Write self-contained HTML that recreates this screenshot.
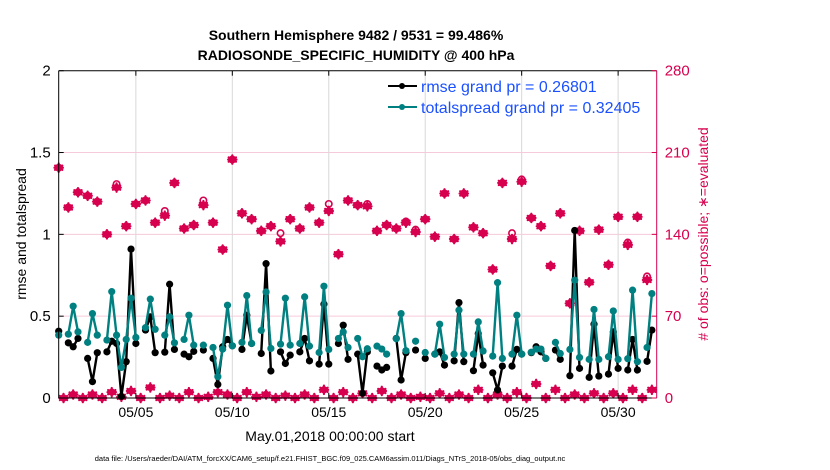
<!DOCTYPE html>
<html><head><meta charset="utf-8">
<style>
body{margin:0;background:#fff;}
svg{display:block;font-family:"Liberation Sans",Arial,sans-serif;}
</style></head>
<body>
<svg id="chart" width="830" height="470" viewBox="0 0 830 470" xmlns="http://www.w3.org/2000/svg">
<rect width="830" height="470" fill="#fff"/>
<text x="356" y="40" text-anchor="middle" font-size="14" font-weight="bold">Southern Hemisphere 9482 / 9531 = 99.486%</text>
<text x="356" y="60" text-anchor="middle" font-size="14" font-weight="bold">RADIOSONDE_SPECIFIC_HUMIDITY @ 400 hPa</text>
<g id="grid"></g>
<g id="counts"></g>
<g id="lines"></g>
<g id="axes"></g>
<g>
  <g>
    <line x1="388" y1="86" x2="417" y2="86" stroke="#000" stroke-width="2"/>
    <circle cx="402" cy="86" r="3" fill="#000"/>
    <text x="421" y="92" font-size="16" fill="#1a50ff">rmse grand pr = 0.26801</text>
  </g>
  <g>
    <line x1="388" y1="107" x2="417" y2="107" stroke="#008080" stroke-width="2"/>
    <circle cx="402" cy="107" r="3" fill="#008080"/>
    <text x="421" y="113" font-size="16" fill="#1a50ff">totalspread grand pr = 0.32405</text>
  </g>
</g>
<text transform="translate(26,234) rotate(-90)" text-anchor="middle" font-size="14">rmse and totalspread</text>
<text transform="translate(708,234) rotate(-90)" text-anchor="middle" font-size="14" fill="#d6004f"># of obs: o=possible; ∗=evaluated</text>
<text x="330" y="441" text-anchor="middle" font-size="14">May.01,2018 00:00:00 start</text>
<text x="330" y="461" text-anchor="middle" font-size="7.5">data file: /Users/raeder/DAI/ATM_forcXX/CAM6_setup/f.e21.FHIST_BGC.f09_025.CAM6assim.011/Diags_NTrS_2018-05/obs_diag_output.nc</text>
</svg>
<script>
// ---- data (hours since May 01 00:00) ----
const lineHours = [0,12,18,24,36,42,48,60,66,72,78,84,90,96,108,114,120,132,138,144,156,162,168,180,192,198,204,210,216,228,234,240,252,258,264,276,282,288,300,306,312,324,330,336,348,354,360,372,378,384,396,402,408,420,426,432,444,456,468,474,480,492,498,504,516,522,528,540,546,552,564,570,576,588,594,600,606,618,624,636,642,648,660,666,672,684,690,696,708,714,720,732,738];
const rmse = [0.408,0.337,0.313,0.364,0.242,0.10,0.277,0.282,0.347,0.333,0.01,0.222,0.91,0.333,0.415,0.496,0.277,0.28,0.695,0.297,0.268,0.252,0.285,0.293,0.242,0.083,0.313,0.358,0.319,0.297,0.506,0.333,0.272,0.821,0.165,0.282,0.211,0.262,0.282,0.364,0.227,0.207,0.573,0.207,0.333,0.445,0.236,0.268,0.029,0.282,0.195,0.171,0.187,0.364,0.11,0.277,0.293,0.242,0.268,0.282,0.201,0.227,0.583,0.222,0.167,0.394,0.201,0.154,0.049,0.195,0.195,0.297,0.268,0.277,0.313,0.282,0.242,0.293,0.236,0.136,1.024,0.181,0.126,0.451,0.134,0.146,0.404,0.181,0.171,0.358,0.171,0.224,0.415];
const totalspread = [0.384,0.39,0.561,0.404,0.34,0.516,0.384,0.354,0.65,0.384,0.187,0.358,0.61,0.37,0.43,0.604,0.42,0.384,0.496,0.337,0.358,0.506,0.323,0.323,0.309,0.13,0.299,0.567,0.319,0.34,0.626,0.333,0.413,0.648,0.303,0.329,0.61,0.323,0.333,0.618,0.317,0.278,0.683,0.297,0.364,0.404,0.309,0.364,0.252,0.301,0.317,0.299,0.268,0.362,0.516,0.289,0.347,0.278,0.268,0.451,0.248,0.268,0.537,0.268,0.268,0.465,0.287,0.256,0.705,0.242,0.268,0.506,0.268,0.28,0.299,0.299,0.242,0.34,0.272,0.297,0.72,0.248,0.236,0.541,0.236,0.252,0.532,0.236,0.24,0.659,0.222,0.309,0.638];
// counts at 00/12Z (even 6h index) and 06/18Z (odd index)
const evalBig = [197,163,176,173,168,140,180,147,166,169,150,156,184,145,148,165,150,127,204,158,153,143,147,134,153,145,163,150,160,123,169,165,164,143,148,145,150,142,153,138,175,136,175,146,141,110,184,136,185,154,147,113,158,81,143,99,144,114,155,131,155,101];
const possBig = [197,163,176,173,168,140,183,147,166,169,150,160,184,145,148,169,150,127,204,158,153,143,147,141,153,145,163,150,166,123,169,165,166,143,148,145,151,144,153,138,175,136,175,146,141,110,184,141,187,154,147,113,158,81,143,99,144,114,155,133,155,104];
const countSmall = [0,3,0,3,0,5,1,6,0,9,0,2,0,5,0,1,5,3,0,5,1,3,0,2,0,3,0,7,0,5,0,4,0,6,0,3,0,1,0,4,0,3,0,7,0,3,0,5,0,12,0,7,0,3,0,4,0,4,0,7,0,7];
const leftTicks = [0,0.5,1,1.5,2];
const leftTickLabels = ["0","0.5","1","1.5","2"];
const rightTicks = [0,70,140,210,280];
const dateTickHours = [96,216,336,456,576,696];
const dateTickLabels = ["05/05","05/10","05/15","05/20","05/25","05/30"];

const X0=58.7, X1=656.7, Y0=398, Y1=70.7, HMAX=744;
const NS='http://www.w3.org/2000/svg';
function xs(h){return X0+h/HMAX*(X1-X0);}
function yl(v){return Y0-v/2*(Y0-Y1);}
function yr(c){return Y0-c/280*(Y0-Y1);}
function mk(tag,attrs,parent){const e=document.createElementNS(NS,tag);for(const k in attrs)e.setAttribute(k,attrs[k]);parent.appendChild(e);return e;}
const grid=document.getElementById('grid'),axes=document.getElementById('axes'),cg=document.getElementById('counts'),lg=document.getElementById('lines');
const RED='#d6004f';

// grid
rightTicks.forEach((c,i)=>{ if(i>0&&i<rightTicks.length-1){const l=mk('line',{x1:X0,x2:X1,y1:yr(c),y2:yr(c),stroke:'#f6cadb','stroke-width':1},grid);

}});
dateTickHours.forEach(h=>{const l=mk('line',{x1:xs(h),x2:xs(h),y1:Y1,y2:Y0,stroke:'#d8d8d8','stroke-width':1},grid);

});

// counts
function star(x,y,parent){const g=mk('g',{stroke:RED,'stroke-width':2.2,'stroke-linecap':'round'},parent);
 const r=4.2;[[0,1],[0.866,0.5],[0.866,-0.5]].forEach(([a,b])=>mk('line',{x1:x-a*r,y1:y-b*r,x2:x+a*r,y2:y+b*r},g));
 mk('line',{x1:x-r,y1:y,x2:x+r,y2:y},g); return g;}
evalBig.forEach((c,k)=>{const h=k*12;
 const p=mk('circle',{cx:xs(h),cy:yr(possBig[k]),r:3.2,fill:'none',stroke:RED,'stroke-width':1.6},cg);
 
 
 const s=star(xs(h),yr(c),cg);
 
 
 mk('circle',{cx:xs(h),cy:yr(c),r:2.6,fill:RED},s);
});
countSmall.forEach((c,k)=>{const h=k*12+6;
 const s=star(xs(h),yr(c),cg);
 
 
 mk('circle',{cx:xs(h),cy:yr(c),r:2.6,fill:RED},s);
});

// lines
function drawSeries(vals,color,name){
 const g=mk('g',{},lg);
 
 
 let d='';
 vals.forEach((v,i)=>{const h=lineHours[i];const brk=i===0||h-lineHours[i-1]>6;d+=(brk?'M':'L')+xs(h).toFixed(1)+' '+yl(v).toFixed(1)+' ';});
 mk('path',{d:d,fill:'none',stroke:color,'stroke-width':2.4,'stroke-linejoin':'round'},g);
 vals.forEach((v,i)=>{const c=mk('circle',{cx:xs(lineHours[i]),cy:yl(v),r:3.6,fill:color},g);
 
 });
}
drawSeries(rmse,'#000','rmse-line');
drawSeries(totalspread,'#008080','totalspread-line');

// axes
mk('line',{x1:X0,x2:X1,y1:Y1,y2:Y1,stroke:'#000','stroke-width':1},axes);
mk('line',{x1:X0,x2:X1,y1:Y0,y2:Y0,stroke:'#000','stroke-width':1},axes);
mk('line',{x1:X0,x2:X0,y1:Y1,y2:Y0,stroke:'#000','stroke-width':1},axes);
mk('line',{x1:X1,x2:X1,y1:Y1,y2:Y0,stroke:RED,'stroke-width':1},axes);
leftTicks.forEach((v,i)=>{mk('line',{x1:X0,x2:X0+5,y1:yl(v),y2:yl(v),stroke:'#000'},axes);
 const t=mk('text',{x:X0-8,y:yl(v)+5,'text-anchor':'end','font-size':15},axes);t.textContent=leftTickLabels[i];
 
 });
rightTicks.forEach(c=>{mk('line',{x1:X1-5,x2:X1,y1:yr(c),y2:yr(c),stroke:RED},axes);
 const t=mk('text',{x:X1+8,y:yr(c)+5,'font-size':15,fill:RED},axes);t.textContent=String(c);
 
 });
dateTickHours.forEach((h,i)=>{mk('line',{x1:xs(h),x2:xs(h),y1:Y0,y2:Y0-5,stroke:'#000'},axes);
 mk('line',{x1:xs(h),x2:xs(h),y1:Y1,y2:Y1+5,stroke:'#000'},axes);
 const t=mk('text',{x:xs(h),y:417,'text-anchor':'middle','font-size':14},axes);t.textContent=dateTickLabels[i];
 
 });
</script>
</body></html>
